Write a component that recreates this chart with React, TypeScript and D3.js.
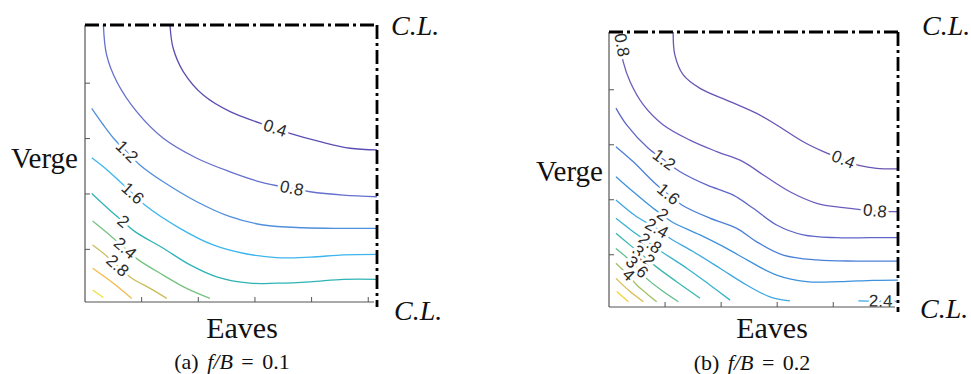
import * as d3 from 'd3';

type Pt = [number, number];
type Contour = [number, Pt[]];
type Label = [number, number, number]; // level, u, v

// edge ticks, as fraction of the span from the edge to the C.L.
const xTicks = [0.194, 0.388, 0.582, 0.776, 0.97];
const yTicks = [0.19, 0.39, 0.59, 0.79];

// ---- (a) f/B = 0.1 ----
const levelsA = [0.4, 0.8, 1.2, 1.6, 2, 2.4, 2.8, 3.2, 3.6];
const a04: Pt[] = [[0.291, 1.0], [0.302, 0.916], [0.337, 0.831], [0.405, 0.747], [0.497, 0.687], [0.599, 0.646], [0.702, 0.609], [0.805, 0.579], [0.908, 0.555], [1.0, 0.549]];
const a08: Pt[] = [[0.063, 1.0], [0.074, 0.892], [0.109, 0.795], [0.177, 0.687], [0.268, 0.591], [0.383, 0.519], [0.497, 0.47], [0.599, 0.434], [0.708, 0.41], [0.771, 0.398], [0.885, 0.386], [1.0, 0.38]];
const a12: Pt[] = [[0.023, 0.699], [0.063, 0.639], [0.103, 0.585], [0.143, 0.543], [0.188, 0.495], [0.268, 0.434], [0.383, 0.362], [0.497, 0.308], [0.611, 0.278], [0.748, 0.268], [0.885, 0.266], [1.0, 0.266]];
const a16: Pt[] = [[0.023, 0.521], [0.068, 0.484], [0.12, 0.434], [0.163, 0.392], [0.205, 0.35], [0.325, 0.266], [0.439, 0.206], [0.542, 0.176], [0.656, 0.16], [0.771, 0.162], [0.885, 0.17], [1.0, 0.172]];
const a20: Pt[] = [[0.023, 0.392], [0.091, 0.326], [0.131, 0.29], [0.171, 0.254], [0.268, 0.194], [0.36, 0.134], [0.451, 0.091], [0.565, 0.068], [0.656, 0.068], [0.771, 0.073], [0.885, 0.082], [1.0, 0.082]];
const a24: Pt[] = [[0.026, 0.292], [0.091, 0.236], [0.137, 0.194], [0.183, 0.152], [0.268, 0.097], [0.348, 0.049], [0.428, 0.013]];
const a28: Pt[] = [[0.026, 0.206], [0.063, 0.176], [0.111, 0.131], [0.16, 0.086], [0.223, 0.049], [0.28, 0.013]];
const a32: Pt[] = [[0.026, 0.122], [0.097, 0.068], [0.16, 0.013]];
const a36: Pt[] = [[0.026, 0.043], [0.063, 0.016]];
const contoursA: Contour[] = [[0.4, a04], [0.8, a08], [1.2, a12], [1.6, a16], [2, a20], [2.4, a24], [2.8, a28], [3.2, a32], [3.6, a36]];
const labelsA: Label[] = [[0.4, 0.651, 0.627], [0.8, 0.708, 0.41], [1.2, 0.143, 0.543], [1.6, 0.163, 0.392], [2, 0.131, 0.29], [2.4, 0.137, 0.194], [2.8, 0.111, 0.131]];

// ---- (b) f/B = 0.2 ----
const levelsB = [0.4, 0.8, 1.2, 1.6, 2, 2.4, 2.8, 3.2, 3.6, 4, 4.4, 4.8];
const b04: Pt[] = [[0.222, 1.0], [0.228, 0.916], [0.257, 0.844], [0.315, 0.795], [0.419, 0.747], [0.511, 0.704], [0.58, 0.662], [0.672, 0.601], [0.742, 0.565], [0.811, 0.536], [0.869, 0.514], [0.926, 0.504], [1.0, 0.502]];
const b08: Pt[] = [[0.032, 1.0], [0.049, 0.892], [0.073, 0.819], [0.119, 0.735], [0.188, 0.662], [0.28, 0.607], [0.373, 0.565], [0.465, 0.528], [0.534, 0.48], [0.626, 0.419], [0.719, 0.377], [0.811, 0.361], [0.92, 0.349], [1.0, 0.347]];
const b12: Pt[] = [[0.024, 0.723], [0.061, 0.662], [0.136, 0.577], [0.19, 0.535], [0.246, 0.492], [0.338, 0.444], [0.43, 0.407], [0.499, 0.359], [0.58, 0.298], [0.672, 0.262], [0.788, 0.252], [0.903, 0.252], [1.0, 0.252]];
const b16: Pt[] = [[0.024, 0.583], [0.084, 0.528], [0.159, 0.45], [0.205, 0.41], [0.252, 0.371], [0.349, 0.323], [0.442, 0.286], [0.511, 0.237], [0.603, 0.189], [0.719, 0.171], [0.857, 0.167], [1.0, 0.167]];
const b20: Pt[] = [[0.024, 0.474], [0.084, 0.419], [0.153, 0.359], [0.185, 0.335], [0.217, 0.31], [0.315, 0.262], [0.407, 0.213], [0.488, 0.165], [0.58, 0.116], [0.684, 0.092], [0.799, 0.092], [0.915, 0.097], [1.0, 0.098]];
const b24: Pt[] = [[0.024, 0.389], [0.096, 0.328], [0.165, 0.286], [0.211, 0.25], [0.292, 0.201], [0.384, 0.141], [0.476, 0.08], [0.557, 0.037], [0.626, 0.022]];
const b24r: Pt[] = [[0.863, 0.022], [0.93, 0.021], [1.0, 0.02]];
const b28: Pt[] = [[0.024, 0.323], [0.084, 0.274], [0.142, 0.231], [0.182, 0.201], [0.269, 0.141], [0.349, 0.08], [0.419, 0.025]];
const b32: Pt[] = [[0.024, 0.268], [0.073, 0.225], [0.119, 0.185], [0.165, 0.145], [0.234, 0.092], [0.315, 0.032]];
const b36: Pt[] = [[0.024, 0.213], [0.059, 0.182], [0.096, 0.145], [0.13, 0.104], [0.188, 0.056], [0.24, 0.019]];
const b40: Pt[] = [[0.024, 0.159], [0.045, 0.138], [0.067, 0.116], [0.096, 0.08], [0.128, 0.051], [0.165, 0.019]];
const b44: Pt[] = [[0.024, 0.104], [0.073, 0.056], [0.119, 0.019]];
const b48: Pt[] = [[0.027, 0.056], [0.067, 0.019]];
const contoursB: Contour[] = [[0.4, b04], [0.8, b08], [1.2, b12], [1.6, b16], [2, b20], [2.4, b24], [2.4, b24r], [2.8, b28], [3.2, b32], [3.6, b36], [4, b40], [4.4, b44], [4.8, b48]];
const labelsB: Label[] = [[0.4, 0.811, 0.536], [0.8, 0.044, 0.953], [0.8, 0.92, 0.349], [1.2, 0.19, 0.535], [1.6, 0.205, 0.41], [2, 0.185, 0.335], [2.4, 0.165, 0.286], [2.4, 0.94, 0.021], [2.8, 0.142, 0.231], [3.2, 0.119, 0.185], [3.6, 0.096, 0.145], [4, 0.067, 0.116]];

const paletteA = ['#5a4fb3', '#6570cc', '#4f8fdc', '#3cb6ec', '#2fb3b5', '#76c281', '#c9bd5a', '#f6b94a', '#f2df3a'];
const paletteB = ['#6a55b5', '#6c5cbf', '#5e67c8', '#4b80d8', '#3d92dc', '#3ea8e0', '#38b3cc', '#3db7b0', '#62bd8c', '#a2c065', '#d8bc4f', '#f0d43a'];

const serif = '"Liberation Serif", "Times New Roman", serif';
const sans = '"Liberation Sans", Arial, sans-serif';

function segDist(px: number, py: number, x1: number, y1: number, x2: number, y2: number) {
  const dx = x2 - x1, dy = y2 - y1;
  const t = Math.max(0, Math.min(1, ((px - x1) * dx + (py - y1) * dy) / (dx * dx + dy * dy || 1)));
  return Math.hypot(px - (x1 + t * dx), py - (y1 + t * dy));
}

function Panel({ left, top, width, height, contours, labels, levels, palette }: any) {
  const x = d3.scaleLinear().domain([0, 1]).range([left, left + width]);
  const y = d3.scaleLinear().domain([0, 1]).range([top + height, top]);
  const line = d3.line<Pt>().x(d => x(d[0])).y(d => y(d[1])).curve(d3.curveCatmullRom.alpha(0.5));
  const color = (lv: number) => palette[levels.indexOf(lv)];

  // rotate each label along the nearest piece of its contour
  const angleOf = (lv: number, u: number, v: number) => {
    let best = Infinity, ang = 0;
    contours.filter((c: Contour) => c[0] === lv).forEach((c: Contour) => {
      const p = c[1];
      for (let i = 0; i < p.length - 1; i++) {
        const x1 = x(p[i][0]), y1 = y(p[i][1]), x2 = x(p[i + 1][0]), y2 = y(p[i + 1][1]);
        const d = segDist(x(u), y(v), x1, y1, x2, y2);
        if (d < best) { best = d; ang = Math.atan2(y2 - y1, x2 - x1) * 180 / Math.PI; }
      }
    });
    if (ang > 90) ang -= 180;
    if (ang <= -90) ang += 180;
    return ang;
  };

  const x0 = x(0), x1 = x(1), yb = y(0), yt = y(1);
  return (
    <g>
      {contours.map((c: Contour, i: number) => (
        <path key={i} d={line(c[1]) || ''} fill="none" stroke={color(c[0])} strokeWidth={1.3} />
      ))}
      {labels.map((l: Label, i: number) => {
        const a = angleOf(l[0], l[1], l[2]);
        return (
          <text key={i} transform={`translate(${x(l[1])},${y(l[2])}) rotate(${a})`}
            textAnchor="middle" dominantBaseline="central" fontFamily={sans} fontSize={17}
            fill="#2a2a2a" stroke="#fff" strokeWidth={6} strokeLinejoin="round"
            style={{ paintOrder: 'stroke' }}>{String(l[0])}</text>
        );
      })}
      {/* eaves and verge edges */}
      <line x1={x0} x2={x0} y1={yt} y2={yb} stroke="#555" strokeWidth={1.2} />
      <line x1={x0} x2={x1 - 3} y1={yb} y2={yb} stroke="#555" strokeWidth={1.2} />
      {yTicks.map(t => <line key={'y' + t} x1={x0} x2={x0 + 5} y1={y(t)} y2={y(t)} stroke="#555" strokeWidth={1} />)}
      {xTicks.map(t => <line key={'x' + t} x1={x(t)} x2={x(t)} y1={yb} y2={yb - 5} stroke="#555" strokeWidth={1} />)}
      {/* centre lines */}
      <line x1={x0} x2={x1} y1={yt} y2={yt} stroke="#000" strokeWidth={2.8} strokeDasharray="14 4 3 4" />
      <line x1={x1} x2={x1} y1={yt} y2={yb + 5} stroke="#000" strokeWidth={2.8} strokeDasharray="14 4 3 4" />
    </g>
  );
}

export default function App() {
  return (
    <svg width={971} height={374} style={{ position: 'absolute', left: 0, top: 0, background: '#fff' }}>
      <Panel left={85} top={25} width={292} height={277} contours={contoursA} labels={labelsA} levels={levelsA} palette={paletteA} />
      <Panel left={609} top={32} width={289} height={275} contours={contoursB} labels={labelsB} levels={levelsB} palette={paletteB} />

      <g fontFamily={serif} fill="#111">
        <text x={78} y={168} textAnchor="end" fontSize={29}>Verge</text>
        <text x={242} y={338} textAnchor="middle" fontSize={30}>Eaves</text>
        <text x={391} y={35} fontStyle="italic" fontSize={28}>C.L.</text>
        <text x={394} y={320} fontStyle="italic" fontSize={28}>C.L.</text>
        <text x={603} y={181} textAnchor="end" fontSize={29}>Verge</text>
        <text x={772} y={338} textAnchor="middle" fontSize={30}>Eaves</text>
        <text x={922} y={35} fontStyle="italic" fontSize={28}>C.L.</text>
        <text x={920} y={318} fontStyle="italic" fontSize={28}>C.L.</text>
      </g>
      <g fontFamily={serif} fontSize={22} fill="#111" wordSpacing={3}>
        <text x={232} y={369} textAnchor="middle">(a) <tspan fontStyle="italic">f/B</tspan> = 0.1</text>
        <text x={752} y={370} textAnchor="middle">(b) <tspan fontStyle="italic">f/B</tspan> = 0.2</text>
      </g>
    </svg>
  );
}
